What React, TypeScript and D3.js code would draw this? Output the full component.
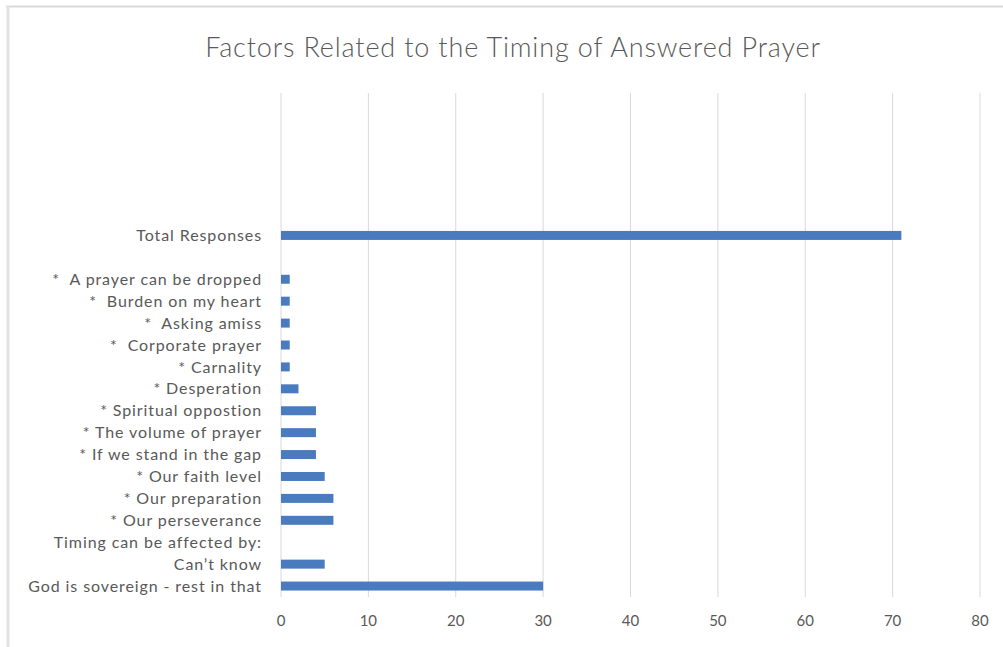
import React from "react";
import * as d3 from "d3";

const categories: string[] = [
  "God is sovereign - rest in that",
  "Can’t know",
  "Timing can be affected by:",
  "* Our perseverance",
  "* Our preparation",
  "* Our faith level",
  "* If we stand in the gap",
  "* The volume of prayer",
  "* Spiritual oppostion",
  "* Desperation",
  "* Carnality",
  "*  Corporate prayer",
  "*  Asking amiss",
  "*  Burden on my heart",
  "*  A prayer can be dropped",
  "",
  "Total Responses",
  "",
  "",
  "",
  "",
  "",
  "",
];

const values: (number | null)[] = [
  30, 5, 0, 6, 6, 5, 4, 4, 4, 2, 1, 1, 1, 1, 1, null, 71, null, null, null, null, null, null,
];

const xTicks: number[] = [0, 10, 20, 30, 40, 50, 60, 70, 80];

const title = "Factors Related to the Timing of Answered Prayer";

export default function App() {
  const W = 1003;
  const H = 647;
  const left = 281;
  const right = 980;
  const top = 93;
  const bottom = 597;

  const x = d3.scaleLinear().domain([0, 80]).range([left, right]);
  const y = d3
    .scaleBand<number>()
    .domain(categories.map((_, i) => i))
    .range([bottom, top])
    .padding(0);
  const step = y.step();
  const barH = step * 0.41;

  const font = "Lato, 'Open Sans', sans-serif";
  const textColor = "#595959";

  return (
    <div style={{ position: "fixed", left: 0, top: 0 }}>
      <svg width={W} height={H} style={{ display: "block", background: "#fff" }}>
        <rect x={0} y={0} width={W} height={H} fill="#fff" />
        {/* chart frame */}
        <line x1={6} y1={6.5} x2={W} y2={6.5} stroke="#d9d9d9" strokeWidth={2} />
        <line x1={8} y1={6} x2={8} y2={H} stroke="#e3e3e3" strokeWidth={3} />

        <text
          x={513}
          y={48}
          dy="0.35em"
          textAnchor="middle"
          fontFamily={font}
          fontWeight={300}
          fontSize={27}
          letterSpacing={0.85}
          fill={textColor}
        >
          {title}
        </text>

        {xTicks.map((t) => (
          <line
            key={"g" + t}
            x1={x(t)}
            x2={x(t)}
            y1={top}
            y2={bottom}
            stroke="#d9d9d9"
            strokeWidth={1}
          />
        ))}

        {values.map((v, i) =>
          v === null || v === 0 ? null : (
            <rect
              key={"b" + i}
              x={x(0)}
              y={(y(i) as number) + step / 2 - barH / 2}
              width={x(v) - x(0)}
              height={barH}
              fill="#4a7bbf"
            />
          )
        )}

        {categories.map((c, i) => (
          <text
            key={"c" + i}
            x={262}
            y={(y(i) as number) + step / 2}
            dy="0.35em"
            textAnchor="end"
            fontFamily={font}
            fontSize={16}
            letterSpacing={0.9}
            fill={textColor}
            style={{ whiteSpace: "pre" }}
          >
            {c}
          </text>
        ))}

        {xTicks.map((t) => (
          <text
            key={"t" + t}
            x={x(t)}
            y={621}
            dy="0.35em"
            textAnchor="middle"
            fontFamily={font}
            fontSize={15}
            fill={textColor}
          >
            {t}
          </text>
        ))}
      </svg>
    </div>
  );
}
